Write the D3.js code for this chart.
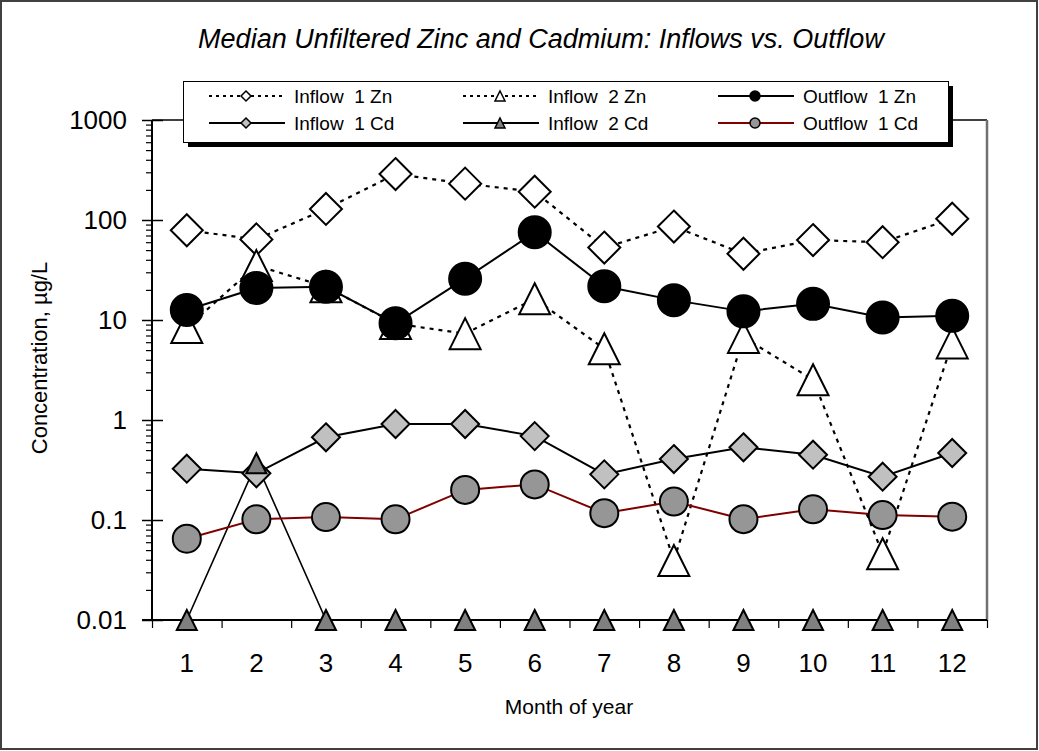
<!DOCTYPE html>
<html>
<head>
<meta charset="utf-8">
<script src="https://cdn.jsdelivr.net/npm/d3@7"></script>
<style>
  html, body { margin: 0; padding: 0; background: #fff; }
  svg { display: block; font-family: "Liberation Sans", Arial, sans-serif; }
  text { white-space: pre; }
</style>
</head>
<body>
<svg id="chart" width="1039" height="751"></svg>
<script>
// Monthly medians, µg/L
const months = [1, 2, 3, 4, 5, 6, 7, 8, 9, 10, 11, 12];
const inflow1Zn  = [79, 64, 129, 288, 231, 192, 53, 86, 46, 63, 60, 103];
const inflow2Zn  = [8.4, 35, 21.5, 9.2, 7.3, 16.3, 5.15, 0.0394, 6.7, 2.53, 0.046, 5.9];
const outflow1Zn = [12.6, 20.9, 21.5, 9.26, 25.9, 75.3, 21.7, 15.8, 12.2, 14.5, 10.6, 11.0];
const inflow1Cd  = [0.326, 0.293, 0.671, 0.912, 0.912, 0.69, 0.286, 0.407, 0.533, 0.45, 0.271, 0.468];
const inflow2Cd  = [0.01, 0.37, 0.01, 0.01, 0.01, 0.01, 0.01, 0.01, 0.01, 0.01, 0.01, 0.01];
const outflow1Cd = [0.065, 0.1016, 0.107, 0.1016, 0.2, 0.227, 0.117, 0.153, 0.102, 0.128, 0.112, 0.108];

const yTicks = [0.01, 0.1, 1, 10, 100, 1000];
const yTickLabels = ["0.01", "0.1", "1", "10", "100", "1000"];

const series = [
  { name: "Inflow  1 Zn",  values: inflow1Zn,  dashed: true,  line: "#000", lw: 2.2, shape: "diamond",  fill: "#fff",    size: 32 },
  { name: "Inflow  2 Zn",  values: inflow2Zn,  dashed: true,  line: "#000", lw: 2.2, shape: "triangle", fill: "#fff",    size: 31 },
  { name: "Outflow  1 Zn", values: outflow1Zn, dashed: false, line: "#000", lw: 2,   shape: "circle",   fill: "#000",    size: 32 },
  { name: "Inflow  1 Cd",  values: inflow1Cd,  dashed: false, line: "#000", lw: 2,   shape: "diamond",  fill: "#c0c0c0", size: 28 },
  { name: "Inflow  2 Cd",  values: inflow2Cd,  dashed: false, line: "#000", lw: 1.6, shape: "triangle", fill: "#808080", size: 20 },
  { name: "Outflow  1 Cd", values: outflow1Cd, dashed: false, line: "#800000", lw: 2, shape: "circle",  fill: "#969696", size: 28 }
];

const svg = d3.select("#chart");
const W = 1039, H = 751;
const plot = { left: 152, right: 987, top: 120, bottom: 620 };

// outer frame
svg.append("rect").attr("x", 1).attr("y", 1).attr("width", W - 3).attr("height", H - 3)
  .attr("fill", "#fff").attr("stroke", "#404040").attr("stroke-width", 2);

// title
svg.append("text").attr("x", 541).attr("y", 48).attr("text-anchor", "middle")
  .attr("font-size", 27).attr("font-style", "italic").text("Median Unfiltered Zinc and Cadmium: Inflows vs. Outflow");

const x = d3.scaleBand().domain(months).range([plot.left, plot.right]);
const xc = m => x(m) + x.bandwidth() / 2;
const xEdge = d3.scaleLinear().domain([0, 12]).range([plot.left, plot.right]);
const y = d3.scaleLog().domain([0.01, 1000]).range([plot.bottom, plot.top]);

// plot area frame
svg.append("line").attr("x1", plot.left).attr("x2", plot.right).attr("y1", plot.top).attr("y2", plot.top)
  .attr("stroke", "#000").attr("stroke-width", 1.5);
svg.append("line").attr("x1", plot.right).attr("x2", plot.right).attr("y1", plot.top).attr("y2", plot.bottom)
  .attr("stroke", "#707070").attr("stroke-width", 2.5);

// minor y ticks
const minor = [];
for (let e = -2; e < 3; e++) for (let k = 2; k <= 9; k++) minor.push(k * Math.pow(10, e));
svg.append("g").attr("transform", `translate(${plot.left},0)`)
  .call(d3.axisLeft(y).tickValues(minor).tickSize(6).tickFormat(""))
  .call(g => g.select(".domain").remove())
  .call(g => g.selectAll("line").attr("stroke", "#000").attr("stroke-width", 1.2));

// major y ticks (crossing the axis) and labels
svg.append("g").attr("transform", `translate(${plot.left},0)`)
  .call(d3.axisLeft(y).tickValues(yTicks).tickSize(10).tickPadding(15)
    .tickFormat((d, i) => yTickLabels[i]))
  .call(g => g.select(".domain").remove())
  .call(g => g.selectAll("line").attr("stroke", "#000").attr("stroke-width", 1.5))
  .call(g => g.selectAll("text").attr("font-size", 26).attr("fill", "#000")
    .attr("font-family", "Liberation Sans, Arial, sans-serif"));
svg.append("g").attr("transform", `translate(${plot.left},0)`)
  .call(d3.axisRight(y).tickValues(yTicks).tickSize(11).tickFormat(""))
  .call(g => g.select(".domain").remove())
  .call(g => g.selectAll("line").attr("stroke", "#000").attr("stroke-width", 1.5));

// x ticks at category edges
svg.append("g").attr("transform", `translate(0,${plot.bottom})`)
  .call(d3.axisBottom(xEdge).tickValues(d3.range(0, 13)).tickSize(8).tickFormat(""))
  .call(g => g.select(".domain").remove())
  .call(g => g.selectAll("line").attr("stroke", "#000").attr("stroke-width", 1.2));

// x labels
svg.append("g").attr("transform", `translate(0,${plot.bottom})`)
  .call(d3.axisBottom(x).tickSize(0).tickPadding(34))
  .call(g => g.select(".domain").remove())
  .call(g => g.selectAll("text").attr("font-size", 26).attr("fill", "#000")
    .attr("font-family", "Liberation Sans, Arial, sans-serif"));

// axis lines
svg.append("line").attr("x1", plot.left).attr("x2", plot.left).attr("y1", plot.top).attr("y2", plot.bottom)
  .attr("stroke", "#000").attr("stroke-width", 2);
svg.append("line").attr("x1", plot.left - 10).attr("x2", plot.right).attr("y1", plot.bottom).attr("y2", plot.bottom)
  .attr("stroke", "#000").attr("stroke-width", 2);

// axis titles
svg.append("text").attr("x", 569).attr("y", 714).attr("text-anchor", "middle")
  .attr("font-size", 21).text("Month of year");
svg.append("text").attr("transform", "translate(47,358) rotate(-90)").attr("text-anchor", "middle")
  .attr("font-size", 22).text("Concentration, µg/L");

// marker drawing
function marker(g, shape, cx, cy, size, fill, sw) {
  const h = size / 2;
  if (shape === "circle") {
    g.append("circle").attr("cx", cx).attr("cy", cy).attr("r", h)
      .attr("fill", fill).attr("stroke", "#000").attr("stroke-width", sw);
  } else if (shape === "diamond") {
    g.append("path").attr("d", `M${cx},${cy - h}L${cx + h},${cy}L${cx},${cy + h}L${cx - h},${cy}Z`)
      .attr("fill", fill).attr("stroke", "#000").attr("stroke-width", sw);
  } else {
    g.append("path").attr("d", `M${cx},${cy - h}L${cx + h},${cy + h}L${cx - h},${cy + h}Z`)
      .attr("fill", fill).attr("stroke", "#000").attr("stroke-width", sw).attr("stroke-linejoin", "miter");
  }
}

const line = d3.line().x((d, i) => xc(months[i])).y(d => y(d));
const linesG = svg.append("g");
series.forEach(s => {
  linesG.append("path").attr("d", line(s.values)).attr("fill", "none")
    .attr("stroke", s.line).attr("stroke-width", s.lw)
    .attr("stroke-dasharray", s.dashed ? "4,5" : null);
});
const marksG = svg.append("g");
series.forEach(s => {
  s.values.forEach((v, i) => marker(marksG, s.shape, xc(months[i]), y(v), s.size, s.fill, 2));
});

// legend
const lg = svg.append("g");
lg.append("rect").attr("x", 188).attr("y", 86).attr("width", 765).attr("height", 61).attr("fill", "#000");
lg.append("rect").attr("x", 183.5).attr("y", 81.5).attr("width", 765).attr("height", 61)
  .attr("fill", "#fff").attr("stroke", "#000").attr("stroke-width", 1);
const colX = [209, 463, 718];
const rowY = [96, 123];
series.forEach((s, i) => {
  const cx = colX[i % 3], cy = rowY[Math.floor(i / 3)];
  lg.append("line").attr("x1", cx).attr("x2", cx + 76).attr("y1", cy).attr("y2", cy)
    .attr("stroke", s.line).attr("stroke-width", s.dashed ? 2 : 2)
    .attr("stroke-dasharray", s.dashed ? "3,4" : null);
  marker(lg, s.shape, cx + 37, cy, 10, s.fill, 1.5);
  lg.append("text").attr("x", cx + 85).attr("y", cy + 7).attr("font-size", 19).text(s.name);
});
</script>
</body>
</html>
